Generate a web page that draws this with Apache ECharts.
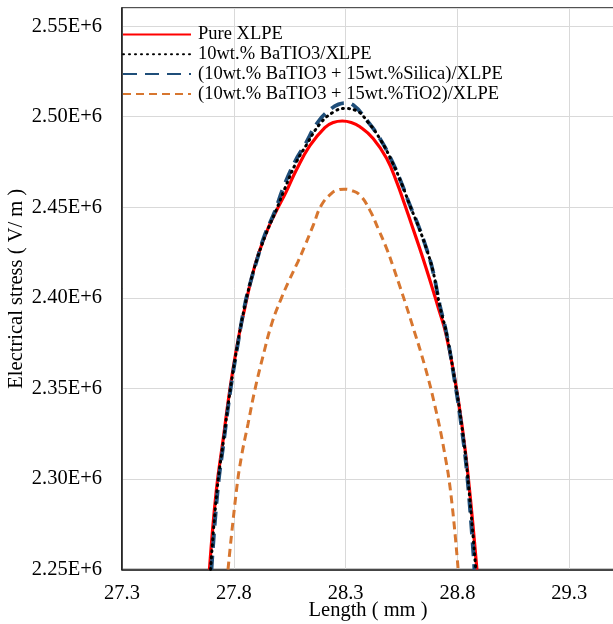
<!DOCTYPE html>
<html>
<head>
<meta charset="utf-8">
<script src="https://cdn.jsdelivr.net/npm/echarts@6/dist/echarts.min.js"></script>
<style>
html,body{margin:0;padding:0;background:#fff;}
#chart{width:613px;height:624px;}
</style>
</head>
<body>
<div id="chart"></div>
<script>
// Series names
var seriesNames = [
  'Pure XLPE',
  '10wt.% BaTIO3/XLPE',
  '(10wt.% BaTIO3 + 15wt.%Silica)/XLPE',
  '(10wt.% BaTIO3 + 15wt.%TiO2)/XLPE'
];

// Pure XLPE  (Length mm, Electrical stress V/m)
var pureX = [27.691, 27.722, 27.752, 27.782, 27.819, 27.852, 27.879, 27.9085, 27.953, 27.992, 28.034, 28.080, 28.140, 28.207, 28.245, 28.285, 28.325, 28.364, 28.423, 28.483, 28.528, 28.565, 28.601, 28.631, 28.660, 28.688, 28.715, 28.748, 28.789, 28.819, 28.848, 28.887];
var pureY = [2250000, 2293900, 2321500, 2349100, 2376700, 2396000, 2410700, 2423600, 2438300, 2448400, 2458500, 2470700, 2484000, 2494000, 2496800, 2497600, 2496800, 2494400, 2488000, 2477000, 2464000, 2451200, 2438300, 2427300, 2416300, 2405200, 2394200, 2380400, 2354600, 2330700, 2301200, 2250000];

// 10wt.% BaTIO3/XLPE
var batX = [27.696, 27.725, 27.754, 27.784, 27.820, 27.850, 27.873, 27.903, 27.943, 27.988, 28.027, 28.078, 28.125, 28.185, 28.245, 28.295, 28.345, 28.400, 28.457, 28.508, 28.552, 28.589, 28.625, 28.662, 28.692, 28.721, 28.751, 28.788, 28.818, 28.846, 28.882];
var batY = [2250000, 2293900, 2321500, 2349100, 2376700, 2396000, 2408000, 2421000, 2435000, 2448000, 2460000, 2474500, 2484500, 2496000, 2502500, 2504500, 2503500, 2497000, 2487000, 2475000, 2462500, 2450500, 2439500, 2426800, 2414000, 2395500, 2380400, 2354600, 2330700, 2301200, 2250000];

// (10wt.% BaTIO3 + 15wt.%Silica)/XLPE
var silX = [27.700, 27.728, 27.756, 27.785, 27.821, 27.849, 27.871, 27.901, 27.938, 27.983, 28.020, 28.073, 28.117, 28.177, 28.237, 28.268, 28.300, 28.334, 28.394, 28.453, 28.505, 28.550, 28.587, 28.624, 28.661, 28.691, 28.721, 28.751, 28.787, 28.816, 28.844, 28.876];
var silY = [2250000, 2293900, 2321500, 2349100, 2376700, 2396000, 2407000, 2419900, 2434600, 2447500, 2460400, 2475100, 2484300, 2497200, 2504600, 2506800, 2507500, 2506400, 2498100, 2488000, 2476000, 2463200, 2451200, 2440200, 2427300, 2414400, 2396000, 2380400, 2354600, 2330700, 2301200, 2250000];

// (10wt.% BaTIO3 + 15wt.%TiO2)/XLPE
var tioX = [27.774, 27.812, 27.834, 27.864, 27.894, 27.930, 27.970, 28.010, 28.045, 28.087, 28.117, 28.155, 28.192, 28.237, 28.265, 28.292, 28.325, 28.364, 28.408, 28.445, 28.483, 28.515, 28.546, 28.570, 28.596, 28.655, 28.700, 28.740, 28.772, 28.803];
var tioY = [2250000, 2293900, 2312300, 2330700, 2349100, 2367500, 2385900, 2399000, 2409000, 2420000, 2428500, 2440000, 2451200, 2457700, 2459500, 2460000, 2459300, 2456700, 2448400, 2438300, 2427300, 2416300, 2405000, 2396000, 2385900, 2361900, 2339900, 2316000, 2290200, 2250000];

function pairs(xs, ys) {
  var out = [];
  for (var i = 0; i < xs.length; i++) out.push([xs[i], ys[i]]);
  return out;
}

var FONT = '"Liberation Serif", "Times New Roman", serif';
var chart = echarts.init(document.getElementById('chart'), null, {renderer: 'canvas'});

chart.setOption({
  animation: false,
  backgroundColor: '#fff',
  textStyle: {fontFamily: FONT},
  grid: {left: 122, top: 8, right: -1, bottom: 54.5, containLabel: false, outerBoundsMode: 'none',
         show: true, borderColor: '#1a1a1a', borderWidth: 1.5},
  legend: {
    orient: 'vertical',
    left: 122,
    top: 25,
    itemWidth: 68,
    itemHeight: 14,
    itemGap: 0.8,
    padding: 0,
    data: seriesNames,
    itemStyle: {opacity: 0},
    textStyle: {fontFamily: FONT, fontSize: 18.5, color: '#000', padding: [0, 0, 0, 2]}
  },
  xAxis: {
    type: 'value',
    min: 27.3,
    max: 29.5,
    interval: 0.5,
    name: 'Length ( mm )',
    nameLocation: 'middle',
    nameGap: 31,
    nameMoveOverlap: false,
    nameTextStyle: {fontFamily: FONT, fontSize: 20.5, color: '#000'},
    axisLine: {show: true, lineStyle: {color: '#1a1a1a', width: 1.5}},
    axisTick: {show: false},
    axisLabel: {
      fontFamily: FONT, fontSize: 20.5, color: '#000', margin: 14,
      showMaxLabel: false,
      formatter: function (v) { return v.toFixed(1); }
    },
    splitLine: {show: true, lineStyle: {color: '#d9d9d9', width: 1}}
  },
  yAxis: {
    type: 'value',
    min: 2250000,
    max: 2560000,
    interval: 50000,
    name: 'Electrical stress ( V/ m )',
    nameLocation: 'middle',
    nameGap: 95,
    nameMoveOverlap: false,
    nameTextStyle: {fontFamily: FONT, fontSize: 20.5, color: '#000'},
    axisLine: {show: true, lineStyle: {color: '#1a1a1a', width: 1.5}},
    axisTick: {show: false},
    axisLabel: {
      fontFamily: FONT, fontSize: 20.5, color: '#000', margin: 20,
      showMaxLabel: false,
      formatter: function (v) { return (v / 1e6).toFixed(2) + 'E+6'; }
    },
    splitLine: {show: true, lineStyle: {color: '#d9d9d9', width: 1}}
  },
  series: [
    {
      name: seriesNames[0], type: 'line', symbol: 'none', smooth: 0.45, z: 2,
      data: pairs(pureX, pureY),
      lineStyle: {color: '#ff0000', width: 3.2, type: 'solid'},
      itemStyle: {color: '#ff0000'}
    },
    {
      name: seriesNames[1], type: 'line', symbol: 'none', smooth: 0.45, z: 4,
      data: pairs(batX, batY),
      lineStyle: {color: '#000000', width: 3, type: [1, 5], cap: 'round'},
      itemStyle: {color: '#000000'}
    },
    {
      name: seriesNames[2], type: 'line', symbol: 'none', smooth: 0.45, z: 3,
      data: pairs(silX, silY),
      lineStyle: {color: '#1f4e79', width: 3.8, type: [14, 8]},
      itemStyle: {color: '#1f4e79'}
    },
    {
      name: seriesNames[3], type: 'line', symbol: 'none', smooth: 0.45, z: 2,
      data: pairs(tioX, tioY),
      lineStyle: {color: '#d7762f', width: 3, type: [8, 5]},
      itemStyle: {color: '#d7762f'}
    }
  ]
});
</script>
</body>
</html>
